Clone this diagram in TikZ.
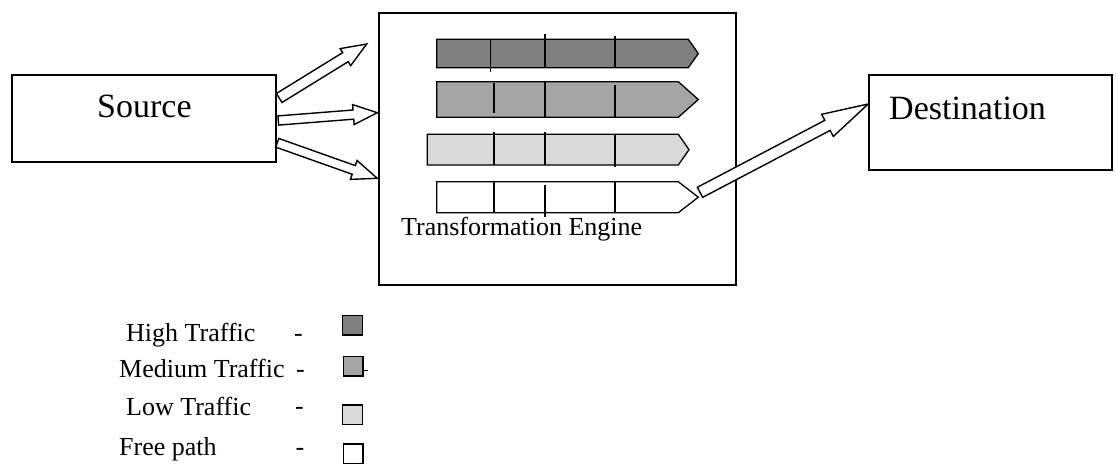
\documentclass[tikz,border=0pt]{standalone}
\usepackage{fontspec}
\setmainfont{Liberation Serif}
\usetikzlibrary{calc}

\definecolor{laneHigh}{HTML}{808080}
\definecolor{laneMed}{HTML}{A5A5A5}
\definecolor{laneLow}{HTML}{D9D9D9}

\tikzset{
  box/.style={draw, line width=1.6pt, inner sep=0pt},
  lanebox/.style={draw, line width=1.3pt, line join=miter},
  divider/.style={line width=1.3pt},
  arrowline/.style={draw, fill=white, line width=1.4pt, line join=miter},
  bigtext/.style={inner sep=0pt, anchor=base west, font=\fontsize{34}{40}\selectfont},
  smalltext/.style={inner sep=0pt, anchor=base west, font=\fontsize{26}{30}\selectfont},
  swatch/.style={draw, line width=1.4pt, minimum width=19.5pt, minimum height=19.5pt, inner sep=0pt},
}

% hollow block arrow: tail, tip, shaft half width, head half width, head length
\newcommand\hollowarrow[5]{%
  \coordinate (#1-#2-h) at ($(#2)!#5!(#1)$);
  \draw[arrowline] ($(#1)!#3!90:(#2)$) -- ($(#1-#2-h)!#3!90:(#2)$)
    -- ($(#1-#2-h)!#4!90:(#2)$) -- (#2)
    -- ($(#1-#2-h)!#4!-90:(#2)$) -- ($(#1-#2-h)!#3!-90:(#2)$)
    -- ($(#1)!#3!-90:(#2)$) -- cycle;
}

% traffic lane: fill, left, top, bottom, body right, tip
\newcommand\lane[6]{%
  \draw[lanebox, fill=#1] (#2,#3) -- (#5,#3) -- (#6,{(#3+#4)/2}) -- (#5,#4) -- (#2,#4) -- cycle;
}

\begin{document}
\begin{tikzpicture}[x=1pt, y=-1pt]
\useasboundingbox (0,0) rectangle (1116,464);

% main boxes
\node[box, minimum width=264pt, minimum height=87pt] (src) at (144,118.5) {};
\node[bigtext] (srclabel) at (97,117) {Source};

\node[box, minimum width=357pt, minimum height=272pt] (engine) at (557.5,149) {};
\node[smalltext] (englabel) at (401,235) {Transformation Engine};

\node[box, minimum width=243pt, minimum height=95pt] (dst) at (990.5,122.5) {};
\node[bigtext] (dstlabel) at (889,119.3) {Destination};

% traffic lanes inside the engine
\lane{laneHigh}{436.7}{39.3}{67.7}{688.3}{698.3}
\draw[divider] (490.7,39.3) -- (490.7,71.7);
\draw[divider] (545,34) -- (545,67.7);
\draw[divider] (615,36) -- (615,67.7);

\lane{laneMed}{436.7}{81.7}{117.3}{678.3}{698.3}
\draw[divider] (494,83.3) -- (494,113.3);
\draw[divider] (545,81.7) -- (545,117.3);
\draw[divider] (615,85) -- (615,117.3);

\lane{laneLow}{427.3}{134.3}{165}{678.3}{689}
\draw[divider] (494,131.7) -- (494,165);
\draw[divider] (545,131.7) -- (545,165);
\draw[divider] (615,135) -- (615,166.7);

\lane{white}{436.7}{181.7}{212.7}{678.3}{698.3}
\draw[divider] (494,181.7) -- (494,212.7);
\draw[divider] (545,185) -- (545,216.7);
\draw[divider] (615,181.7) -- (615,212.7);

% arrow end points
\coordinate (s1) at (279.2,98);
\coordinate (e1) at (366.7,44);
\coordinate (s2) at (278.3,120.5);
\coordinate (e2) at (377.3,112.7);
\coordinate (s3) at (277.3,142.8);
\coordinate (e3) at (377.3,178.3);
\coordinate (s4) at (700,192.3);
\coordinate (e4) at (dst.west |- 0,104);

\hollowarrow{s1}{e1}{5.3pt}{10pt}{25pt}
\hollowarrow{s2}{e2}{4.6pt}{10pt}{24pt}
\hollowarrow{s3}{e3}{4.6pt}{10pt}{25pt}
\hollowarrow{s4}{e4}{5.7pt}{12.5pt}{46pt}

% legend
\node[smalltext] (lgHigh) at (126,341.7) {High Traffic};
\node[smalltext] (lgMed) at (119,377.3) {Medium Traffic};
\node[smalltext] (lgLow) at (126,415) {Low Traffic};
\node[smalltext] (lgFree) at (119,455) {Free path};

\node[smalltext] (dHigh) at (294,341.5) {-};
\node[smalltext] (dMed) at (296,377) {-};
\node[smalltext] (dLow) at (295,414.3) {-};
\node[smalltext] (dFree) at (295.5,455.5) {-};

\node[swatch, fill=laneHigh] (swHigh) at (352.5,325.3) {};
\node[swatch, fill=laneMed] (swMed) at (353.3,366.3) {};
\node[swatch, fill=laneLow] (swLow) at (352.5,414.7) {};
\node[swatch, fill=white] (swFree) at (353.3,453.7) {};
\draw[line width=1pt] (swMed.east |- 0,370.7) -- ++(4,0);
\end{tikzpicture}
\end{document}
